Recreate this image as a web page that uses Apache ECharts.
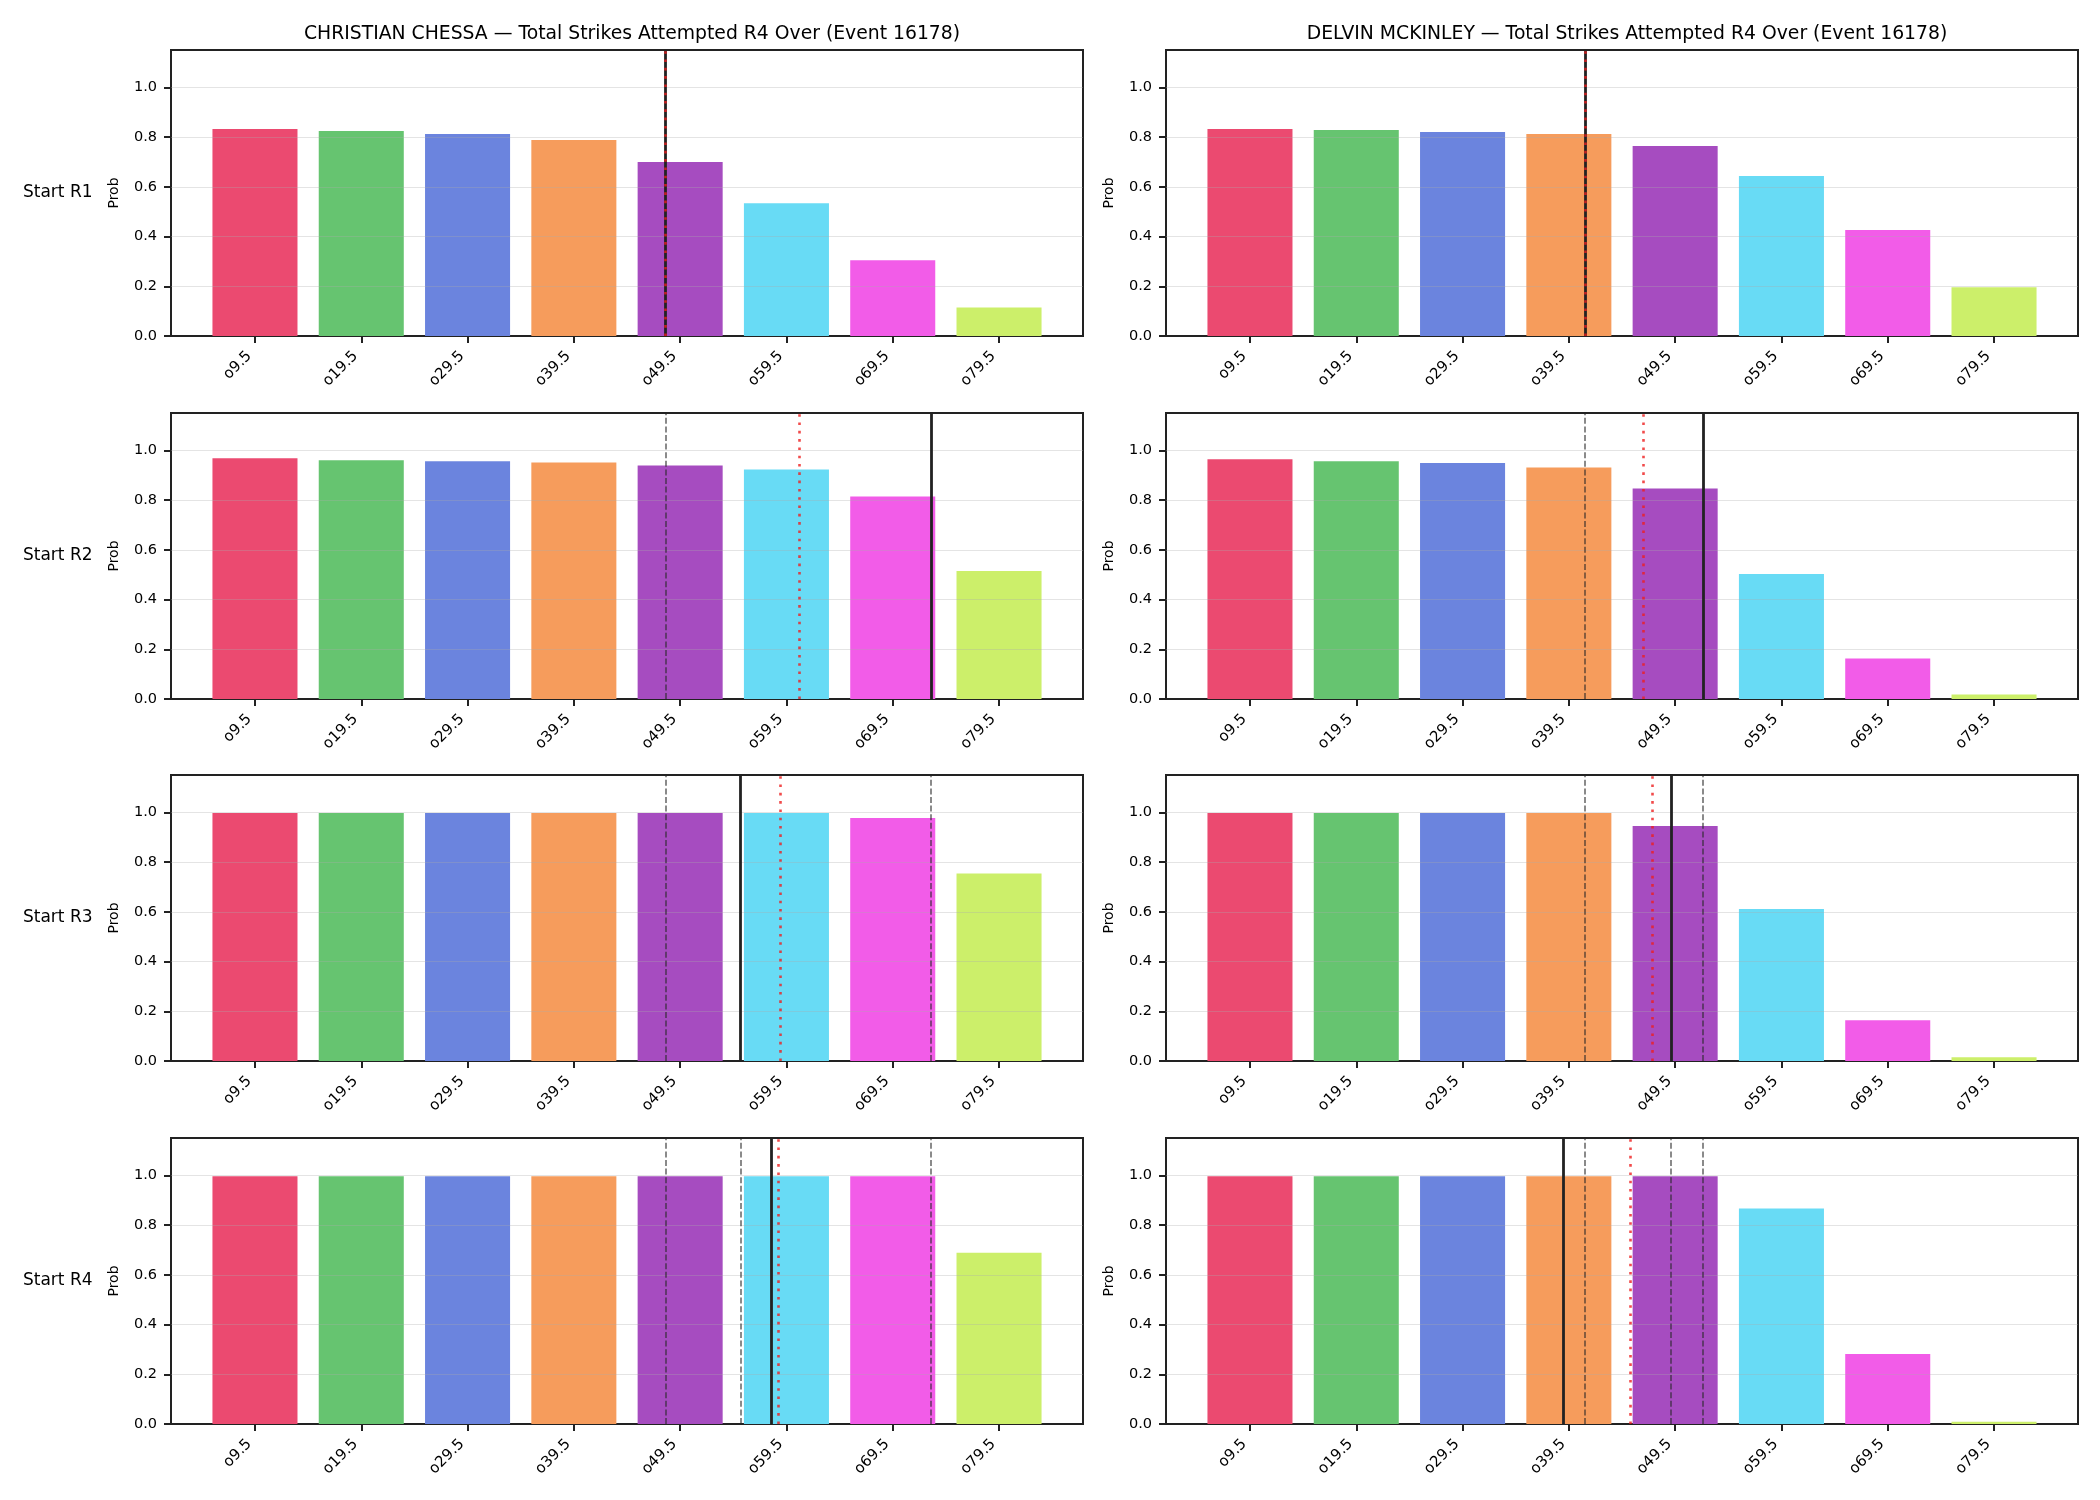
<!DOCTYPE html>
<html>
<head>
<meta charset="utf-8">
<title>Total Strikes Attempted R4 Over</title>
<script src="https://cdn.jsdelivr.net/npm/echarts@6/dist/echarts.min.js"></script>
<style>
html, body { margin: 0; padding: 0; background: #fff; }
#main { width: 2100px; height: 1500px; }
</style>
</head>
<body>
<div id="main"></div>
<script>
const eventId = 16178
const market = 'Total Strikes Attempted R4 Over'
const players = ['CHRISTIAN CHESSA', 'DELVIN MCKINLEY']
const rounds = ['Start R1', 'Start R2', 'Start R3', 'Start R4']
const lines = ['o9.5', 'o19.5', 'o29.5', 'o39.5', 'o49.5', 'o59.5', 'o69.5', 'o79.5']
const yTicks = [0, 0.2, 0.4, 0.6, 0.8, 1.0]
const barColors = ['#eb4a70', '#66c470', '#6b84de', '#f69c5c', '#a64cc0', '#68dbf5', '#f25ce8', '#ccef6a']

// P(over) for each line, one row per starting round
const chessaProbs = [
  [0.832, 0.824, 0.812, 0.788, 0.700, 0.534, 0.305, 0.115],
  [0.968, 0.960, 0.956, 0.951, 0.939, 0.923, 0.814, 0.515],
  [0.997, 0.997, 0.997, 0.997, 0.997, 0.997, 0.977, 0.754],
  [0.996, 0.996, 0.996, 0.996, 0.996, 0.996, 0.996, 0.689]
]
const mckinleyProbs = [
  [0.832, 0.828, 0.820, 0.812, 0.764, 0.643, 0.426, 0.196],
  [0.964, 0.956, 0.949, 0.931, 0.846, 0.503, 0.163, 0.018],
  [0.997, 0.997, 0.997, 0.997, 0.945, 0.611, 0.164, 0.015],
  [0.996, 0.996, 0.996, 0.996, 0.996, 0.867, 0.281, 0.009]
]

// marker positions on the line axis (0 = o9.5, 1 = o19.5 ...)
const chessaPace = [3.86, 6.36, 4.57, 4.86]   // solid black
const chessaProj = [3.86, 5.12, 4.94, 4.92]   // red dotted
const mckinleyPace = [3.15, 4.26, 3.96, 2.95]
const mckinleyProj = [3.15, 3.70, 3.78, 3.58]

const probs = [chessaProbs, mckinleyProbs]
const pace = [chessaPace, mckinleyPace]
const proj = [chessaProj, mckinleyProj]

// layout
const colLeft = [171, 1166]
const rowTop = [50, 413, 775, 1138]
const gridW = 912
const gridH = 286
const ink = '#222'

let chart = echarts.init(document.getElementById('main'))

let grids = [], xAxes = [], yAxes = [], series = [], titles = [], graphics = []

players.forEach(function (player, c) {
  titles.push({
    text: player + ' \u2014 ' + market + ' (Event ' + eventId + ')',
    left: colLeft[c] + gridW / 2,
    top: 20,
    textAlign: 'center',
    textStyle: { fontFamily: 'DejaVu Sans', fontSize: 18.8, fontWeight: 'normal', color: '#000' }
  })
  rounds.forEach(function (round, r) {
    let k = grids.length
    grids.push({
      left: colLeft[c], top: rowTop[r], width: gridW, height: gridH,
      show: true, borderColor: ink, borderWidth: 2, backgroundColor: 'transparent'
    })
    xAxes.push({
      gridIndex: k,
      type: 'value',
      min: -0.79,
      max: 7.79,
      axisLine: { show: true, onZero: false, lineStyle: { color: ink, width: 2 } },
      axisTick: { show: true, customValues: [0, 1, 2, 3, 4, 5, 6, 7], length: 7, lineStyle: { color: ink, width: 2 } },
      axisLabel: {
        customValues: [0, 1, 2, 3, 4, 5, 6, 7],
        formatter: function (v) { return lines[Math.round(v)] },
        rotate: 45,
        margin: 12,
        padding: [0, 8, 0, 0],
        fontFamily: 'DejaVu Sans',
        fontSize: 15,
        color: '#000'
      },
      splitLine: { show: false }
    })
    yAxes.push({
      gridIndex: k,
      type: 'value',
      min: 0,
      max: 1.15,
      interval: 0.2,
      name: 'Prob',
      nameLocation: 'middle',
      nameGap: 50,
      nameTextStyle: { fontFamily: 'DejaVu Sans', fontSize: 14, color: '#000' },
      axisLine: { show: true, onZero: false, lineStyle: { color: ink, width: 2 } },
      axisTick: { show: true, customValues: yTicks, length: 7, lineStyle: { color: ink, width: 2 } },
      axisLabel: {
        customValues: yTicks,
        formatter: function (v) { return v.toFixed(1) },
        margin: 14,
        fontFamily: 'DejaVu Sans',
        fontSize: 14.5,
        color: '#000'
      },
      splitLine: { show: false }
    })

    // light horizontal grid drawn over the bars, then the vertical markers:
    // previous rounds' pace -> grey dashed, current pace -> black, projection -> red dotted
    let marks = []
    yTicks.forEach(function (t) {
      if (t > 0) marks.push({ yAxis: t, lineStyle: { color: 'rgba(170,170,170,0.32)', width: 1.2, type: 'solid' } })
    })
    for (let p = 0; p < r; p++) {
      marks.push({ xAxis: pace[c][p], lineStyle: { color: 'rgba(40,40,40,0.6)', width: 1.8, type: [6, 2.6] } })
    }
    marks.push({ xAxis: pace[c][r], lineStyle: { color: ink, width: 2.8, type: 'solid' } })
    marks.push({ xAxis: proj[c][r], lineStyle: { color: 'rgba(238,30,30,0.8)', width: 2.6, type: [2.6, 5.7] } })

    series.push({
      type: 'bar',
      xAxisIndex: k,
      yAxisIndex: k,
      barWidth: '80%',
      data: probs[c][r].map(function (v, i) {
        return { value: [i, v], itemStyle: { color: barColors[i] } }
      }),
      markLine: {
        silent: true,
        symbol: ['none', 'none'],
        label: { show: false },
        animation: false,
        data: marks
      }
    })

    if (c === 0) {
      graphics.push({
        type: 'text',
        x: 23,
        y: rowTop[r] + gridH / 2,
        style: { text: round, fill: '#000', font: '17px "DejaVu Sans"', verticalAlign: 'middle' }
      })
    }
  })
})

chart.setOption({
  animation: false,
  backgroundColor: '#fff',
  title: titles,
  grid: grids,
  xAxis: xAxes,
  yAxis: yAxes,
  series: series,
  graphic: graphics
})
</script>
</body>
</html>
